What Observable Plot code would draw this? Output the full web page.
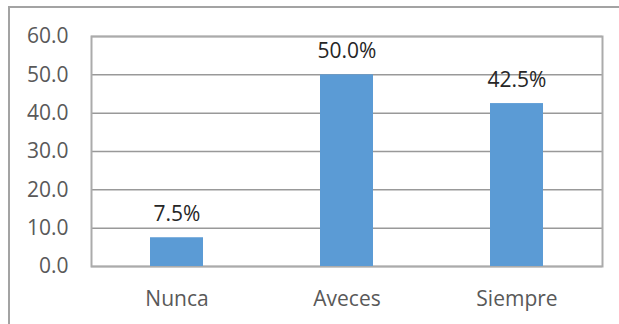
<!DOCTYPE html>
<html>
<head>
<meta charset="utf-8">
<script src="https://cdn.jsdelivr.net/npm/d3@7"></script>
<script src="https://cdn.jsdelivr.net/npm/@observablehq/plot@0.6"></script>
<style>
  html, body { margin: 0; padding: 0; background: #fff; }
  #wrap { position: relative; width: 619px; height: 324px; overflow: hidden; }
  #outer { position: absolute; left: 8px; top: 6px; width: 700px; height: 400px;
           border-left: 2px solid #a3a3a3; border-top: 2px solid #a3a3a3; pointer-events: none; }
</style>
</head>
<body>
<div id="wrap"><div id="outer"></div></div>
<script>
const categories = ["Nunca", "Aveces", "Siempre"];
const values = [7.5, 50.0, 42.5];
const labels = ["7.5%", "50.0%", "42.5%"];
const yTicks = [0, 10, 20, 30, 40, 50, 60];

const data = categories.map((c, i) => ({category: c, value: values[i], label: labels[i]}));

const chart = Plot.plot({
  width: 619,
  height: 324,
  marginLeft: 91,
  marginRight: 17,
  marginTop: 36,
  marginBottom: 58,
  style: {fontFamily: "'Open Sans', sans-serif", fontSize: "21px", background: "transparent", overflow: "visible"},
  x: {domain: categories, paddingInner: 0.689, paddingOuter: 0.3445, label: null},
  y: {domain: [0, 60], label: null},
  marks: [
    Plot.ruleY(yTicks, {stroke: "#999", strokeWidth: 1.5, strokeOpacity: 1}),
    Plot.frame({stroke: "#ababab", strokeWidth: 2}),
    Plot.barY(data, {x: "category", y: "value", fill: "#5B9BD5"}),
    Plot.text(data, {x: "category", y: "value", text: "label", lineAnchor: "bottom", dy: -17, fill: "#262626", fontSize: 21}),
    Plot.axisY(yTicks, {tickSize: 0, tickPadding: 23, tickFormat: d => d.toFixed(1), fill: "#595959", fontSize: 21, label: null}),
    Plot.axisX({tickSize: 0, tickPadding: 25, fill: "#595959", fontSize: 21, label: null})
  ]
});
chart.style.position = "absolute";
chart.style.left = "0px";
chart.style.top = "0px";
document.getElementById("wrap").appendChild(chart);
</script>
</body>
</html>
